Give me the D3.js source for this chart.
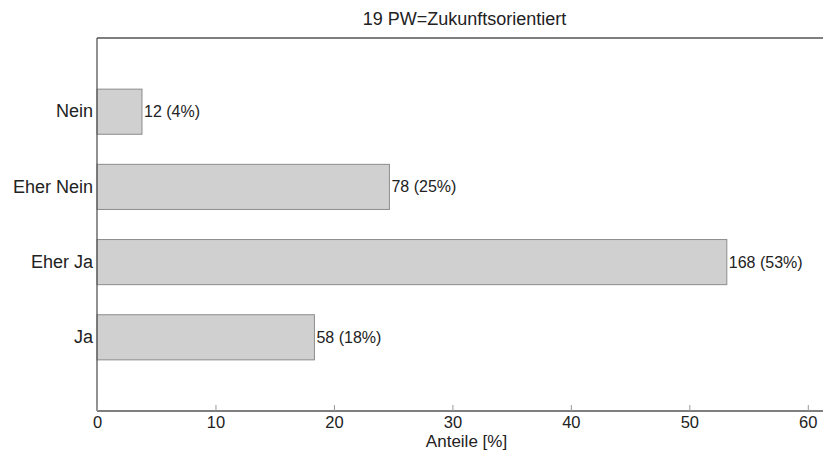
<!DOCTYPE html>
<html><head><meta charset="utf-8">
<script src="https://cdn.jsdelivr.net/npm/d3@7"></script>
<style>body{margin:0;background:#fff}svg{display:block;font-family:"Liberation Sans",Arial,sans-serif}</style>
</head><body><svg id="c" width="823" height="455"></svg>
<script>
const categories = ["Nein", "Eher Nein", "Eher Ja", "Ja"];
const counts = [12, 78, 168, 58];
const percentLabels = ["4%", "25%", "53%", "18%"];
const xTicks = [0, 10, 20, 30, 40, 50, 60];
const title = "19 PW=Zukunftsorientiert";
const xLabel = "Anteile [%]";

const total = d3.sum(counts);
const data = categories.map((c, i) => ({cat: c, n: counts[i], pct: counts[i] / total * 100, lab: counts[i] + " (" + percentLabels[i] + ")"}));

const svg = d3.select("#c");
const L = 97, R = 822, T = 38, B = 411;
const x = d3.scaleLinear().domain([0, 61.2]).range([L, R]);
const y = d3.scaleBand().domain(categories).range([T, B]).paddingInner(0.4).paddingOuter(0.68);

// bars
svg.selectAll("rect.bar").data(data).enter().append("rect")
  .attr("x", x(0)).attr("y", d => y(d.cat))
  .attr("width", d => x(d.pct) - x(0)).attr("height", y.bandwidth())
  .attr("fill", "#d0d0d0").attr("stroke", "#8c8c8c").attr("stroke-width", 1);

// value labels
svg.selectAll("text.val").data(data).enter().append("text")
  .attr("x", d => x(d.pct) + 2).attr("y", d => y(d.cat) + y.bandwidth() / 2)
  .attr("dy", "0.35em").attr("font-size", 16).attr("fill", "#222").text(d => d.lab);

// frame
svg.append("line").attr("x1", L).attr("x2", R + 2).attr("y1", T).attr("y2", T).attr("stroke", "#555").attr("stroke-width", 1.3);
svg.append("line").attr("x1", L).attr("x2", L).attr("y1", T).attr("y2", B).attr("stroke", "#555").attr("stroke-width", 1.3);

// x axis
const xAxis = d3.axisBottom(x).tickValues(xTicks).tickSizeInner(-6).tickSizeOuter(0).tickPadding(5);
const gx = svg.append("g").attr("transform", `translate(0,${B})`).call(xAxis);
gx.select(".domain").attr("stroke", "#555").attr("stroke-width", 1.3).attr("d", `M${L},0H${R + 2}`);
gx.selectAll(".tick line").attr("stroke", "#999");
gx.selectAll(".tick text").attr("font-size", 16.5).attr("fill", "#222").attr("font-family", "'Liberation Sans',Arial,sans-serif");

// y labels
const yAxis = d3.axisLeft(y).tickSize(0).tickPadding(4);
const gy = svg.append("g").attr("transform", `translate(${L},0)`).call(yAxis);
gy.select(".domain").remove();
gy.selectAll(".tick text").attr("font-size", 18).attr("fill", "#222").attr("font-family", "'Liberation Sans',Arial,sans-serif");

// title & axis label
svg.append("text").attr("x", (L + R) / 2 + 5).attr("y", 25).attr("text-anchor", "middle").attr("font-size", 18).attr("fill", "#222").text(title);
svg.append("text").attr("x", (L + R) / 2 + 7).attr("y", 447).attr("text-anchor", "middle").attr("font-size", 17).attr("fill", "#222").text(xLabel);
</script></body></html>
